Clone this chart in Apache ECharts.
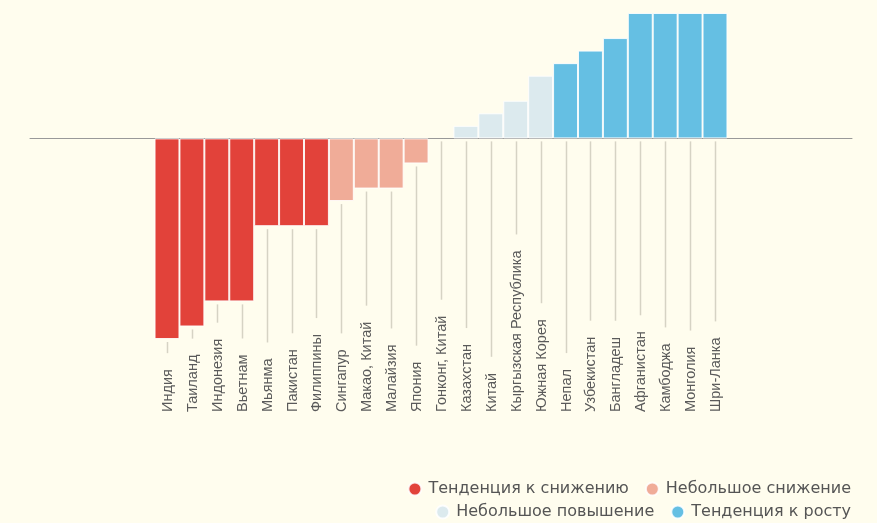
<!DOCTYPE html>
<html>
<head>
<meta charset="utf-8">
<script src="https://cdn.jsdelivr.net/npm/echarts@6/dist/echarts.min.js"></script>
<style>
html,body{margin:0;padding:0;background:#FFFDEE;}
#c{width:877px;height:523px;}
</style>
</head>
<body>
<div id="c"></div>
<script>
// ---- data ----
const categories = ['Индия','Таиланд','Индонезия','Вьетнам','Мьянма','Пакистан','Филиппины','Сингапур','Макао, Китай','Малайзия','Япония','Гонконг, Китай','Казахстан','Китай','Кыргызская Республика','Южная Корея','Непал','Узбекистан','Бангладеш','Афганистан','Камбоджа','Монголия','Шри-Ланка'];
const values = [-16,-15,-13,-13,-7,-7,-7,-5,-4,-4,-2,0,1,2,3,5,6,7,8,10,10,10,10];
const groups = [0,0,0,0,0,0,0,1,1,1,1,2,2,2,2,2,3,3,3,3,3,3,3];
const groupNames = ['Тенденция к снижению','Небольшое снижение','Небольшое повышение','Тенденция к росту'];
const groupColors = ['#E2423A','#F0AC98','#DCEAEE','#65BFE3'];
const PAD = 5;

// ---- build padded axis ----
const axisCats = [];
for (let i = 0; i < PAD; i++) axisCats.push('_l' + i);
categories.forEach(c => axisCats.push(c));
for (let i = 0; i < PAD; i++) axisCats.push('_r' + i);

const FONT_SIZE = 14.5;
const FONT_FAMILY = '"Liberation Sans", Arial, sans-serif';
const LEGEND_FONT = '"DejaVu Sans", sans-serif';
const cv = document.createElement('canvas').getContext('2d');
cv.font = FONT_SIZE + 'px ' + FONT_FAMILY;
function tw(t){ return cv.measureText(t).width; }

const barSeries = groupNames.map((name, g) => ({
  name: name,
  type: 'bar',
  stack: 'all',
  barCategoryGap: '0%',
  itemStyle: { color: groupColors[g], borderColor: 'rgba(255,255,255,0.85)', borderWidth: 1 },
  data: axisCats.map((c, i) => {
    const k = i - PAD;
    if (k < 0 || k >= categories.length) return '-';
    return (groups[k] === g && values[k] !== 0) ? values[k] : '-';
  })
}));

const LABEL_BASE = 412;
const labelSeries = {
  type: 'custom',
  clip: false,
  silent: true,
  z: 5,
  data: categories.map((c, k) => [k + PAD, values[k], c]),
  renderItem: function (params, api) {
    const idx = api.value(0);
    const v = api.value(1);
    const name = categories[idx - PAD];
    const p0 = api.coord([idx, 0]);
    const pe = api.coord([idx, v]);
    const x = Math.round(p0[0]) + 0.5;
    const y1 = Math.max(p0[1], pe[1]) + 3;
    const y2 = LABEL_BASE - tw(name) - 16;
    return {
      type: 'group',
      children: [
        { type: 'line', shape: { x1: x, y1: y1, x2: x, y2: y2 }, style: { stroke: '#D6D3C4', lineWidth: 1.5 } },
        { type: 'text', x: p0[0] + 1, y: LABEL_BASE, rotation: Math.PI / 2,
          style: { text: name, fill: '#5a5a5a', fontSize: FONT_SIZE, fontFamily: FONT_FAMILY, align: 'left', verticalAlign: 'middle' } }
      ]
    };
  }
};

const chart = echarts.init(document.getElementById('c'), null, { renderer: 'canvas' });
const legendCommon = {
  right: 26, padding: 0, orient: 'horizontal', icon: 'circle', itemWidth: 13, itemHeight: 13, itemGap: 16,
  textStyle: { fontSize: 16, color: '#555555', fontFamily: LEGEND_FONT, padding: [0, 0, 0, 2] }, selectedMode: false
};
chart.setOption({
  backgroundColor: '#FFFDEE',
  animation: false,
  grid: { left: 30, right: 25, top: 13, height: 326 },
  legend: [
    Object.assign({}, legendCommon, { top: 481, data: [groupNames[0], groupNames[1]] }),
    Object.assign({}, legendCommon, { top: 504, data: [groupNames[2], groupNames[3]] })
  ],
  xAxis: {
    type: 'category', data: axisCats, boundaryGap: true,
    axisLine: { onZero: true, lineStyle: { color: '#999999', width: 1 } },
    axisTick: { show: false }, axisLabel: { show: false }, splitLine: { show: false }
  },
  yAxis: {
    type: 'value', min: -16, max: 10, show: false, splitLine: { show: false }
  },
  series: barSeries.concat([labelSeries])
});
</script>
</body>
</html>
